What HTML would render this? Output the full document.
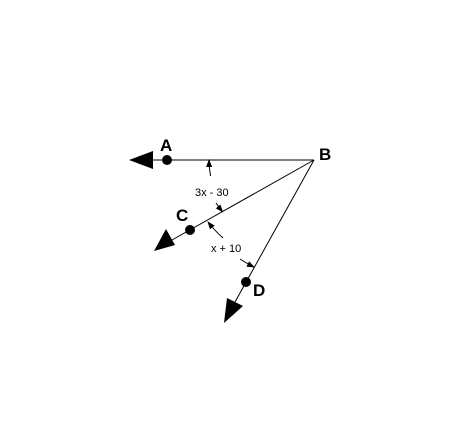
<!DOCTYPE html>
<html><head><meta charset="utf-8"><style>
html,body{margin:0;padding:0;background:#fff;width:450px;height:434px;overflow:hidden}
svg{display:block}
text{font-family:"Liberation Sans",Arial,sans-serif}
</style></head><body>
<svg width="450" height="434" viewBox="0 0 450 434">
<defs>
<marker id="sm" markerWidth="8" markerHeight="6" refX="7" refY="3" orient="auto" markerUnits="userSpaceOnUse">
<path d="M0,0 L8,3 L0,6 Z" fill="#000"/></marker>
<marker id="smr" markerWidth="8" markerHeight="6" refX="7" refY="3" orient="auto-start-reverse" markerUnits="userSpaceOnUse">
<path d="M0,0 L8,3 L0,6 Z" fill="#000"/></marker>
</defs>
<g stroke="#000" stroke-width="1" fill="none">
<line x1="314" y1="160" x2="150" y2="160"/>
<line x1="314" y1="160" x2="172" y2="240"/>
<line x1="314" y1="160" x2="235" y2="302"/>
<path d="M209,160 A105,105 0 0 0 210.5,176" marker-start="url(#smr)"/>
<path d="M216,203 A105,105 0 0 0 222.5,211.7" marker-end="url(#sm)"/>
<path d="M223,238 A123,123 0 0 1 208,222" marker-end="url(#sm)"/>
<path d="M240,259 A123,123 0 0 0 254,267" marker-end="url(#sm)"/>
</g>
<g fill="#000">
<polygon points="129,160 153,151 153,169"/>
<polygon points="154,251 166,229 175,245"/>
<polygon points="224,323 227,298 243,306"/>
<circle cx="167" cy="160" r="5"/>
<circle cx="190" cy="230" r="5"/>
<circle cx="246" cy="282" r="5"/>
</g>
<g font-weight="bold" font-size="17" fill="#000">
<text x="160" y="151">A</text>
<text x="319" y="160">B</text>
<text x="176" y="221">C</text>
<text x="253" y="296">D</text>
</g>
<g font-size="11" fill="#000">
<text x="195" y="196">3x - 30</text>
<text x="211" y="252">x + 10</text>
</g>
</svg>
</body></html>
